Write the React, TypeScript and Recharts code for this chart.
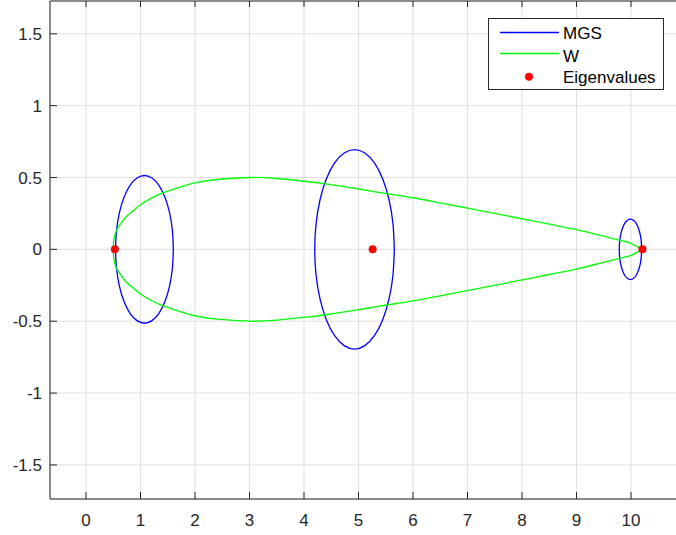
import React from "react";
import {
  ComposedChart,
  Line,
  Scatter,
  XAxis,
  YAxis,
  CartesianGrid,
} from "recharts";

// W curve (field of values boundary): starts at right tip, upper half to the left, lower half back
const wX = [
  10.21, 10.0, 9.8, 9.4, 9.0, 8.5, 8.0, 7.5, 7.0, 6.5, 6.0, 5.4, 5.0, 4.4, 4.0, 3.5, 3.0, 2.4, 2.0, 1.7, 1.42, 1.2, 1.0,
  0.88, 0.75, 0.65, 0.58, 0.53, 0.506, 0.5, 0.506, 0.53, 0.58, 0.65, 0.75, 0.88, 1.0, 1.2, 1.42, 1.7, 2.0, 2.4, 3.0,
  3.5, 4.0, 4.4, 5.0, 5.4, 6.0, 6.5, 7.0, 7.5, 8.0, 8.5, 9.0, 9.4, 9.8, 10.0, 10.21,
];
const wY = [
  0, 0.042, 0.062, 0.1, 0.137, 0.175, 0.213, 0.25, 0.287, 0.323, 0.359, 0.394, 0.42, 0.455, 0.474, 0.493, 0.5, 0.486,
  0.462, 0.43, 0.394, 0.356, 0.31, 0.273, 0.232, 0.185, 0.145, 0.1, 0.05, 0, -0.05, -0.1, -0.145, -0.185, -0.232,
  -0.273, -0.31, -0.356, -0.394, -0.43, -0.462, -0.486, -0.5, -0.493, -0.474, -0.455, -0.42, -0.394, -0.359, -0.323,
  -0.287, -0.25, -0.213, -0.175, -0.137, -0.1, -0.062, -0.042, 0,
];

// MGS ellipses
const mgs1X = [
  1.603, 1.585, 1.532, 1.448, 1.338, 1.21, 1.073, 0.936, 0.808, 0.698, 0.614, 0.561, 0.543, 0.561, 0.614, 0.698, 0.808,
  0.936, 1.073, 1.21, 1.338, 1.448, 1.532, 1.585, 1.603,
];
const mgs1Y = [
  0, 0.133, 0.257, 0.363, 0.445, 0.496, 0.514, 0.496, 0.445, 0.363, 0.257, 0.133, 0, -0.133, -0.257, -0.363, -0.445,
  -0.496, -0.514, -0.496, -0.445, -0.363, -0.257, -0.133, 0,
];
const mgs2X = [
  5.657, 5.632, 5.559, 5.443, 5.292, 5.116, 4.927, 4.738, 4.562, 4.411, 4.295, 4.222, 4.197, 4.222, 4.295, 4.411, 4.562,
  4.738, 4.927, 5.116, 5.292, 5.443, 5.559, 5.632, 5.657,
];
const mgs2Y = [
  0, 0.18, 0.347, 0.491, 0.601, 0.67, 0.694, 0.67, 0.601, 0.491, 0.347, 0.18, 0, -0.18, -0.347, -0.491, -0.601, -0.67,
  -0.694, -0.67, -0.601, -0.491, -0.347, -0.18, 0,
];
const mgs3X = [
  10.195, 10.188, 10.168, 10.135, 10.093, 10.043, 9.99, 9.937, 9.887, 9.845, 9.812, 9.792, 9.785, 9.792, 9.812, 9.845,
  9.887, 9.937, 9.99, 10.043, 10.093, 10.135, 10.168, 10.188, 10.195,
];
const mgs3Y = [
  0, 0.054, 0.105, 0.148, 0.182, 0.203, 0.21, 0.203, 0.182, 0.148, 0.105, 0.054, 0, -0.054, -0.105, -0.148, -0.182,
  -0.203, -0.21, -0.203, -0.182, -0.148, -0.105, -0.054, 0,
];

const eigX = [0.53, 5.26, 10.21];
const eigY = [0, 0, 0];

const xTicks = [0, 1, 2, 3, 4, 5, 6, 7, 8, 9, 10];
const yTicks = [-1.5, -1, -0.5, 0, 0.5, 1, 1.5];

const zip = (xs: number[], ys: number[]) => xs.map((x, i) => ({ x, y: ys[i] }));

const AXIS = "#262626";
const FONT = "'Liberation Sans', Arial, sans-serif";
const LW = 1.3;

function EigenDot(props: any) {
  return <circle cx={props.cx} cy={props.cy} r={4} fill="#ff0000" />;
}

// box axes: tick marks only, no labels
const NoLabel = () => <g />;

function LegendBox() {
  return (
    <svg
      width={177}
      height={73}
      style={{ position: "absolute", left: 488, top: 18, fontFamily: FONT }}
    >
      <rect x={0.5} y={0.5} width={175} height={71} fill="#ffffff" stroke={AXIS} strokeWidth={1} />
      <line x1={12} x2={71} y1={14.5} y2={14.5} stroke="#0000ff" strokeWidth={LW} />
      <text x={75} y={21.3} fontSize={17} fill="#000000">MGS</text>
      <line x1={12} x2={71} y1={35.5} y2={35.5} stroke="#00ff00" strokeWidth={LW} />
      <text x={75} y={43.5} fontSize={17} fill="#000000">W</text>
      <circle cx={41} cy={58.7} r={4} fill="#ff0000" />
      <text x={75} y={65.2} fontSize={17} fill="#000000">Eigenvalues</text>
    </svg>
  );
}

export default function App() {
  const xDomain = [-0.6606, 10.954];
  const yDomain = [-1.737, 1.728];
  return (
    <div
      style={{
        position: "absolute",
        left: 0,
        top: 0,
        width: 676,
        height: 535,
        overflow: "hidden",
        background: "#ffffff",
        fontFamily: FONT,
      }}
    >
      <ComposedChart width={690} height={535} margin={{ top: 0, right: 6, bottom: 0, left: 0 }}>
        <CartesianGrid stroke="#dfdfdf" strokeWidth={1} />
        <XAxis
          type="number"
          dataKey="x"
          domain={xDomain}
          ticks={xTicks}
          allowDataOverflow
          interval={0}
          height={36}
          stroke={AXIS}
          tickSize={-7}
          tickMargin={22}
          tick={{ fill: AXIS, fontSize: 17, fontFamily: FONT }}
        />
        <XAxis
          xAxisId="top"
          orientation="top"
          type="number"
          dataKey="x"
          domain={xDomain}
          ticks={xTicks}
          allowDataOverflow
          interval={0}
          height={1}
          stroke={AXIS}
          tickSize={-6}
          tick={NoLabel}
        />
        <YAxis
          type="number"
          domain={yDomain}
          ticks={yTicks}
          allowDataOverflow
          interval={0}
          width={50}
          stroke={AXIS}
          tickSize={-7}
          tickMargin={15}
          tick={{ fill: AXIS, fontSize: 17, fontFamily: FONT }}
        />
        <YAxis
          yAxisId="right"
          orientation="right"
          type="number"
          domain={yDomain}
          ticks={yTicks}
          allowDataOverflow
          interval={0}
          width={1}
          stroke={AXIS}
          tickSize={-7}
          tick={NoLabel}
        />
        <Line data={zip(mgs1X, mgs1Y)} dataKey="y" type="natural" stroke="#0000ff" strokeWidth={LW} dot={false} activeDot={false} isAnimationActive={false} />
        <Line data={zip(mgs2X, mgs2Y)} dataKey="y" type="natural" stroke="#0000ff" strokeWidth={LW} dot={false} activeDot={false} isAnimationActive={false} />
        <Line data={zip(mgs3X, mgs3Y)} dataKey="y" type="natural" stroke="#0000ff" strokeWidth={LW} dot={false} activeDot={false} isAnimationActive={false} />
        <Line data={zip(wX, wY)} dataKey="y" type="natural" stroke="#00ff00" strokeWidth={LW} dot={false} activeDot={false} isAnimationActive={false} />
        <Scatter data={zip(eigX, eigY)} dataKey="y" fill="#ff0000" shape={<EigenDot />} isAnimationActive={false} />
      </ComposedChart>
      <LegendBox />
    </div>
  );
}
